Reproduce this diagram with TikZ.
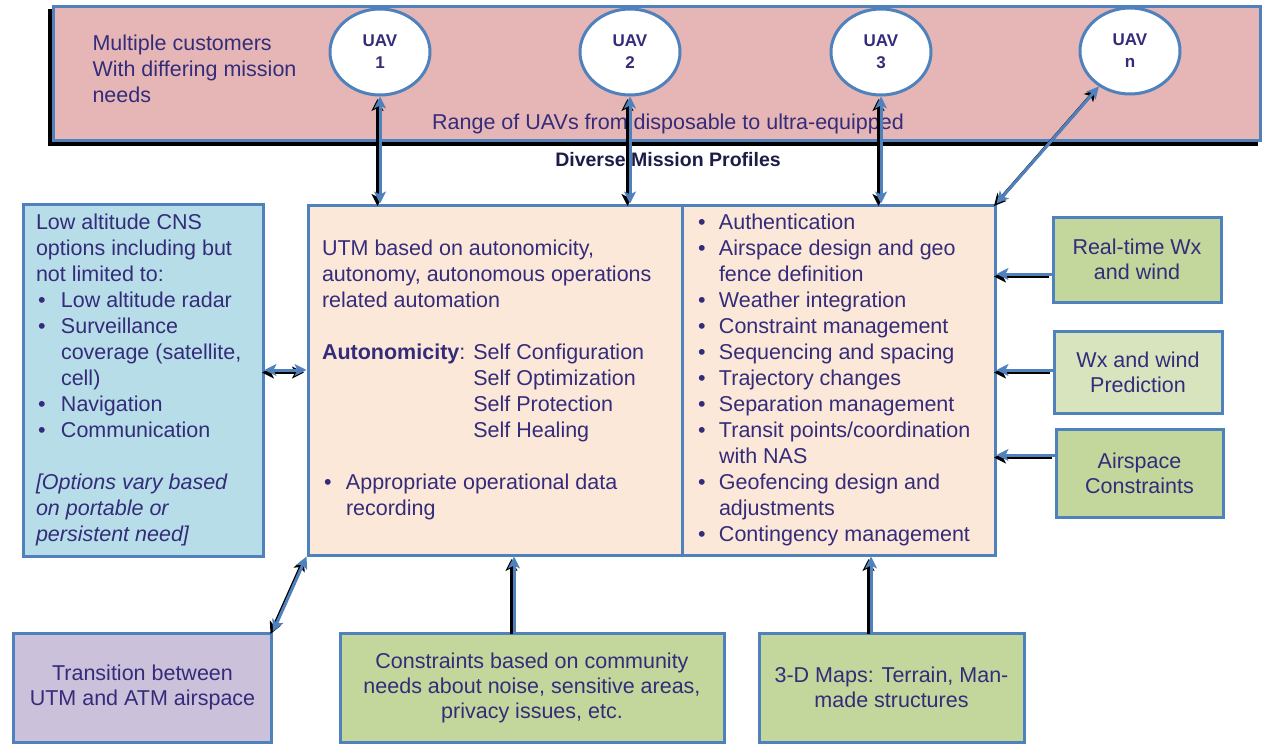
\documentclass[tikz,border=0pt]{standalone}
\usepackage{fontspec}
\setmainfont{Liberation Sans}
\usetikzlibrary{arrows.meta,shapes.geometric}
\definecolor{ublue}{RGB}{79,129,189}
\definecolor{tpink}{RGB}{229,182,181}
\definecolor{peach}{RGB}{252,232,217}
\definecolor{lblue}{RGB}{183,221,232}
\definecolor{lgreen}{RGB}{195,214,155}
\definecolor{llgreen}{RGB}{215,228,189}
\definecolor{lav}{RGB}{204,193,218}
\definecolor{txt}{RGB}{52,44,122}
\definecolor{dtxt}{RGB}{28,28,72}
\newcommand{\bitem}[2][22pt]{\par\noindent\hangindent=#1\hangafter=1\makebox[#1][l]{\hspace{2pt}\textbullet}#2\par}
\newcommand{\mytxt}{\fontsize{21.5}{26}\selectfont}
\newcommand{\rag}{\rightskip=0pt plus 1fil\relax}
\begin{document}
\begin{tikzpicture}[x=1pt,y=-1pt,
 every node/.style={text=txt, font=\mytxt},
 frame/.style={draw=ublue, line width=3pt, inner sep=0pt},
 uav/.style={ellipse, draw=ublue, line width=3pt, fill=white, minimum width=100pt, minimum height=86pt, inner sep=0pt, align=center, font=\fontsize{17}{22}\selectfont\bfseries},
 link/.style={draw=ublue, line width=3pt, preaction={draw=black, line width=3pt, transform canvas={shift={(-2.5pt,-2.5pt)}}}},
 >={Stealth[length=12pt,width=12pt,inset=3pt]}
]
\useasboundingbox (0,0) rectangle (1262,744);

% top band
\node[frame, fill=tpink, minimum width=1207pt, minimum height=134pt,
  preaction={fill=black, draw=black, transform canvas={shift={(-4pt,-4pt)}}}] (top) at (656.5,73) {};
\node[anchor=west, align=left] (cust) at (89,69) {Multiple customers\\With differing mission\\needs};
\node (range) at (668,124) {Range of UAVs from disposable to ultra-equipped};
\node[text=dtxt, font=\fontsize{19.5}{22}\selectfont\bfseries] (div) at (668,160) {Diverse Mission Profiles};

\node[uav] (u1) at (380,52) {UAV\\1};
\node[uav] (u2) at (630,52) {UAV\\2};
\node[uav] (u3) at (881,52) {UAV\\3};
\node[uav] (un) at (1130,51) {UAV\\n};

% main box
\node[frame, fill=peach, minimum width=374pt, minimum height=350pt] (mainL) at (495,380) {%
\begin{minipage}{346pt}\rag
UTM based on autonomicity,\\
autonomy, autonomous operations\\
related automation\par
\vspace{26pt}
\setbox0\hbox{\textbf{Autonomicity}: }%
\textbf{Autonomicity}: Self Configuration\\
\hspace*{\wd0}Self Optimization\\
\hspace*{\wd0}Self Protection\\
\hspace*{\wd0}Self Healing\par
\vspace{26pt}
\bitem[24pt]{Appropriate operational data\\recording}
\end{minipage}};
\node[frame, fill=peach, minimum width=313pt, minimum height=350pt] (mainR) at (838.5,380) {%
\begin{minipage}{285pt}\rag
\bitem[23pt]{Authentication}
\bitem[23pt]{Airspace design and geo\\fence definition}
\bitem[23pt]{Weather integration}
\bitem[23pt]{Constraint management}
\bitem[23pt]{Sequencing and spacing}
\bitem[23pt]{Trajectory changes}
\bitem[23pt]{Separation management}
\bitem[23pt]{Transit points/coordination\\with NAS}
\bitem[23pt]{Geofencing design and\\adjustments}
\bitem[23pt]{Contingency management}
\end{minipage}};

% left box
\node[frame, fill=lblue, minimum width=240pt, minimum height=352pt] (leftb) at (143,380) {%
\begin{minipage}{214pt}\rag
Low altitude CNS\\
options including but\\
not limited to:\par
\bitem[25pt]{Low altitude radar}
\bitem[25pt]{Surveillance\\coverage~(satellite,\\cell)}
\bitem[25pt]{Navigation}
\bitem[25pt]{Communication}
\vspace{26pt}
\noindent\textit{[Options vary based\\on portable or\\persistent need]}
\end{minipage}};

% right boxes
\node[frame, fill=lgreen, minimum width=168pt, minimum height=85pt, align=center, font=\fontsize{21.5}{25}\selectfont] (wx1) at (1137,259.5) {Real-time Wx\\and wind};
\node[frame, fill=llgreen, minimum width=168pt, minimum height=82pt, align=center, font=\fontsize{21.5}{25}\selectfont] (wx2) at (1138,372) {Wx and wind\\Prediction};
\node[frame, fill=lgreen, minimum width=167pt, minimum height=88pt, align=center, font=\fontsize{21.5}{25}\selectfont] (wx3) at (1139.5,473) {Airspace\\Constraints};

% bottom boxes
\node[frame, fill=lav, minimum width=258pt, minimum height=109pt, align=center, font=\fontsize{21.5}{25}\selectfont] (trans) at (142.5,687.5) {Transition between\\UTM and ATM airspace};
\node[frame, fill=lgreen, minimum width=384pt, minimum height=109pt, align=center, font=\fontsize{21.5}{25}\selectfont] (cons) at (532,687.5) {Constraints based on community\\needs about noise, sensitive areas,\\privacy issues, etc.};
\node[frame, fill=lgreen, minimum width=265pt, minimum height=109pt, align=center, font=\fontsize{21.5}{25}\selectfont] (maps) at (891.5,687.5) {3-D Maps: Terrain, Man-\\made structures};

% connectors
\draw[link,<->] (u1.south) -- (u1.south |- mainL.north);
\draw[link,<->] (u2.south) -- (u2.south |- mainL.north);
\draw[link,<->] (u3.south) -- (u3.south |- mainR.north);
\draw[link,<->] (un) -- (mainR.north east);
\draw[link,<->] ([yshift=10pt]leftb.east) -- ([yshift=10pt]mainL.west);
\draw[link,->] ([yshift=-14.5pt]wx1.west) -- ([yshift=-14.5pt]wx1.west -| mainR.east);
\draw[link,->] ([yshift=2pt]wx2.west) -- ([yshift=2pt]wx2.west -| mainR.east);
\draw[link,->] ([yshift=18pt]wx3.west) -- ([yshift=18pt]wx3.west -| mainR.east);
\draw[link,<->] (trans.north east) -- (mainL.south west);
\draw[link,->] ([xshift=-18pt]cons.north) -- ([xshift=-18pt]cons.north |- mainL.south);
\draw[link,->] ([xshift=-20.5pt]maps.north) -- ([xshift=-20.5pt]maps.north |- mainR.south);
\end{tikzpicture}
\end{document}
